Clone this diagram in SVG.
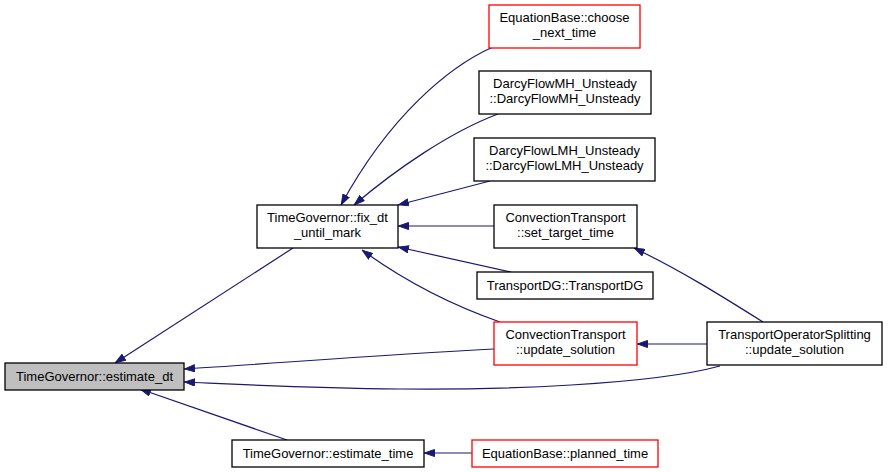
<svg xmlns="http://www.w3.org/2000/svg" width="888" height="472" viewBox="0 0 888 472">
<defs>
<marker id="ah" viewBox="0 0 11 8" refX="11" refY="4" markerWidth="11" markerHeight="8" markerUnits="userSpaceOnUse" orient="auto">
<path d="M0.5,0.5 L10.5,4 L0.5,7.5 z" fill="#191970" stroke="#191970" stroke-width="1"/>
</marker>
</defs>
<style>
.n rect{fill:#ffffff;stroke:#000000;stroke-width:1.3}
.n.red rect{stroke:#ff0000}
.n.cur rect{fill:#bfbfbf}
.n text{font-family:"Liberation Sans",Arial,sans-serif;font-size:13px;fill:#000000;text-anchor:middle}
#edges path{fill:none;stroke:#191970;stroke-width:1.2;marker-end:url(#ah)}
</style>
<rect width="888" height="472" fill="#ffffff"/>
<g id="edges">
<path d="M293,248 L115,363"/>
<path d="M494,349 C380,355 280,363 184,369"/>
<path d="M720,366 C650,385 500,390 400,389 C300,388 230,384 184,382"/>
<path d="M287,440 L140,389"/>
<path d="M472,453 L424,453"/>
<path d="M493,47 C450,66 390,115 341,205"/>
<path d="M498,114 C450,132 395,170 354,205"/>
<path d="M490,181 L398,205"/>
<path d="M494,226 L398,226"/>
<path d="M511,272 L398,247"/>
<path d="M500,322 C460,308 410,285 362,250"/>
<path d="M763,322 C720,295 680,270 634,248"/>
<path d="M707,344 L637,344"/>
</g>
<g id="node_estimate_dt" class="n cur"><rect x="5" y="363" width="179" height="27"/><text x="94.5" y="381">TimeGovernor::estimate_dt</text></g>
<g id="node_fix_dt" class="n"><rect x="257" y="205" width="141" height="43"/><text x="327.5" y="222">TimeGovernor::fix_dt</text><text x="327.5" y="237">_until_mark</text></g>
<g id="node_estimate_time" class="n"><rect x="232" y="440" width="192" height="27"/><text x="328" y="458">TimeGovernor::estimate_time</text></g>
<g id="node_planned_time" class="n red"><rect x="472" y="440" width="186" height="27"/><text x="565" y="458">EquationBase::planned_time</text></g>
<g id="node_choose_next_time" class="n red"><rect x="489" y="5" width="151" height="43"/><text x="564.5" y="22">EquationBase::choose</text><text x="564.5" y="37">_next_time</text></g>
<g id="node_darcy_mh" class="n"><rect x="479" y="71" width="172" height="43"/><text x="565" y="88">DarcyFlowMH_Unsteady</text><text x="565" y="103">::DarcyFlowMH_Unsteady</text></g>
<g id="node_darcy_lmh" class="n"><rect x="474" y="138" width="181" height="43"/><text x="564.5" y="155">DarcyFlowLMH_Unsteady</text><text x="564.5" y="170">::DarcyFlowLMH_Unsteady</text></g>
<g id="node_set_target_time" class="n"><rect x="494" y="205" width="143" height="43"/><text x="565.5" y="222">ConvectionTransport</text><text x="565.5" y="237">::set_target_time</text></g>
<g id="node_transport_dg" class="n"><rect x="477" y="272" width="176" height="27"/><text x="565" y="290">TransportDG::TransportDG</text></g>
<g id="node_ct_update_solution" class="n red"><rect x="494" y="322" width="143" height="43"/><text x="565.5" y="339">ConvectionTransport</text><text x="565.5" y="354">::update_solution</text></g>
<g id="node_tos_update_solution" class="n"><rect x="707" y="322" width="175" height="43"/><text x="794.5" y="339">TransportOperatorSplitting</text><text x="794.5" y="354">::update_solution</text></g>
</svg>
